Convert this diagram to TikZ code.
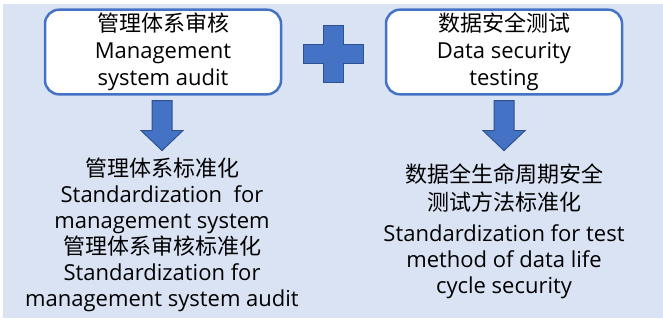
\documentclass[tikz,border=0pt]{standalone}
\usepackage{fontspec}
\setmainfont{Open Sans}
\newfontfamily\cjk{Noto Sans CJK SC}
\usepackage{tikz}
\usetikzlibrary{calc,positioning}
\definecolor{bgblue}{HTML}{DAE3F3}
\definecolor{boxblue}{HTML}{4472C4}
\definecolor{edgeblue}{HTML}{2F528F}
\tikzset{
  topbox/.style={rectangle,rounded corners=14pt,draw=boxblue,line width=2.5pt,fill=white,
                 minimum width=236pt,minimum height=82pt,align=center,
                 font=\fontsize{22}{27}\selectfont},
  outtext/.style={align=center,font=\fontsize{22}{26}\selectfont},
  fatshape/.style={fill=boxblue,draw=edgeblue,line width=1pt,line join=miter}
}
\begin{document}
\begin{tikzpicture}[x=1pt,y=-1pt]
      % Background panel.
      \useasboundingbox (0,0) rectangle (663,324);
      \fill[bgblue] (3,4) rectangle (663,318);

      % Draw the two boxes on top.
      \node[topbox] (audit) at (163,52) {{\cjk 管理体系审核}\\Management\\system audit};
      \node[topbox] (testing) at (504,52) {{\cjk 数据安全测试}\\Data security\\testing};

      % Draw the plus sign between them.
      \coordinate (plus) at (333,53.5);
      \filldraw[fatshape] (plus) ++(-10,-28.5) -- ++(20,0) -- ++(0,19) -- ++(20,0) -- ++(0,19)
        -- ++(-20,0) -- ++(0,19) -- ++(-20,0) -- ++(0,-19) -- ++(-20,0) -- ++(0,-19)
        -- ++(20,0) -- cycle;

      % Draw the results under each box.
      \node[outtext] (auditstd) at (162,235) {{\cjk 管理体系标准化}\\Standardization\ \ for\\management system\\
        {\cjk 管理体系审核标准化}\\Standardization for\\management system audit};
      \node[outtext] (testingstd) at (504,231.5) {{\cjk 数据全生命周期安全}\\[2pt]{\cjk 测试方法标准化}\\[5pt]
        Standardization for test\\method of data life\\cycle security};

      % Draw the down arrows from box to result.
      \coordinate (atop) at ($(audit.south)+(-1,5)$);
      \coordinate (ttop) at ($(testing.south)+(0,5)$);
      \foreach \p in {atop,ttop}
        \filldraw[fatshape] (\p) ++(-10,0) -- ++(20,0) -- ++(0,30) -- ++(11,0) -- ++(-21,20)
          -- ++(-21,-20) -- ++(11,0) -- cycle;

    \end{tikzpicture}
\end{document}
